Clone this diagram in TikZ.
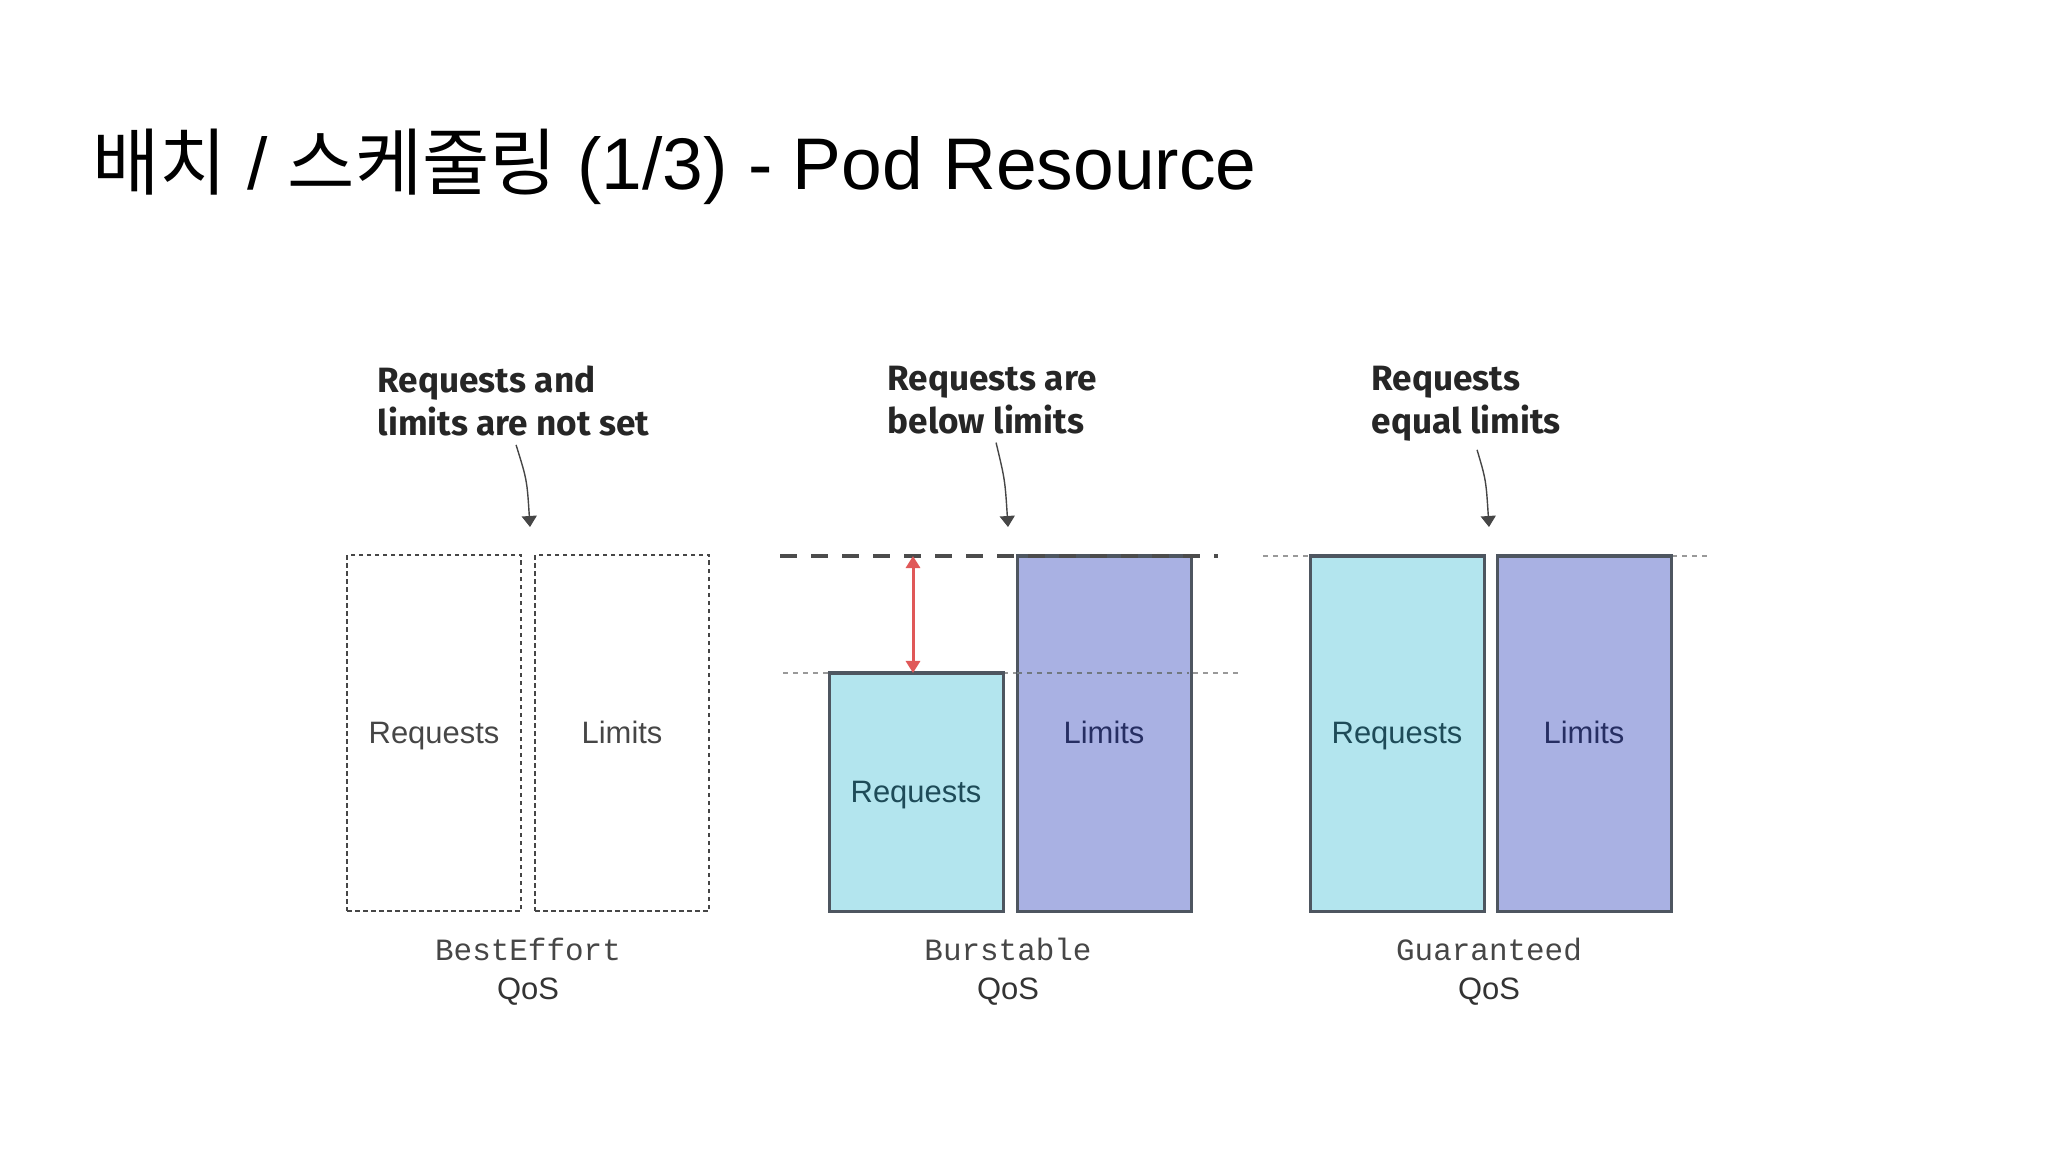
\documentclass[tikz,border=0pt]{standalone}
\usepackage{fontspec}
\setmainfont{Liberation Sans}
\setmonofont{Liberation Mono}
\newfontfamily\krfont{Noto Sans CJK KR}
\newfontfamily\notefont{Fira Sans}
\usepackage{xcolor}
\definecolor{qosreq}{RGB}{179,229,238}
\definecolor{qoslim}{RGB}{169,177,227}
\definecolor{qosedge}{RGB}{78,86,96}
\definecolor{qosred}{RGB}{224,88,88}
\definecolor{qosgray}{RGB}{70,70,70}
\definecolor{reqtext}{RGB}{30,75,88}
\definecolor{limtext}{RGB}{38,46,98}
\usetikzlibrary{arrows.meta, positioning}

\begin{document}
\begin{tikzpicture}[x=0.01cm, y=-0.01cm,
    boxfont/.style={font=\fontsize{8.8}{10}\selectfont, text height=1.5ex, text depth=0.4ex},
    emptybox/.style={boxfont, draw=qosgray, dash pattern=on 0.045cm off 0.035cm, line width=0.02cm,
      minimum width=1.74cm, minimum height=3.56cm, inner sep=0pt, outer sep=0pt, text=qosgray},
    reqbox/.style={boxfont, draw=qosedge, fill=qosreq, line width=0.03cm,
      minimum width=1.74cm, inner sep=0pt, outer sep=0pt, text=reqtext},
    limbox/.style={boxfont, draw=qosedge, fill=qoslim, line width=0.03cm,
      minimum width=1.74cm, inner sep=0pt, outer sep=0pt, text=limtext},
    note/.style={font=\notefont\bfseries\fontsize{10}{12.3}\selectfont, align=left,
      inner sep=0pt, text=black!85},
    notearrow/.style={-{Triangle[width=0.15cm, length=0.11cm]}, line width=0.014cm, qosgray},
    qosname/.style={font=\ttfamily\fontsize{8.8}{10}\selectfont, text=qosgray, inner sep=0pt},
    qoslabel/.style={font=\fontsize{8.8}{10}\selectfont, text=black!80, inner sep=0pt},
    guide/.style={line width=0.022cm, black!40, dash pattern=on 0.05cm off 0.05cm},
    topguide/.style={line width=0.04cm, black!70, dash pattern=on 0.17cm off 0.14cm},
    gaparrow/.style={{Triangle[width=0.14cm, length=0.12cm]}-{Triangle[width=0.14cm, length=0.12cm]},
      line width=0.03cm, qosred}]
  \useasboundingbox (0,0) rectangle (2048,1152);

  % title
  \node[anchor=base west, font=\fontsize{20.8}{25}\selectfont] (title) at (80,190)
       {{\krfont 배치} / {\krfont 스케줄링} (1/3) - Pod Resource};

  % BestEffort
  \node[emptybox, anchor=north west] (ereq) at (347,555) {Requests};
  \node[emptybox, anchor=north west] (elim) at (535,555) {Limits};
  \node[note, anchor=north west] (enote) at (377,365) {Requests and\\limits are not set};
  \coordinate (etip) at (530,527);
  \draw[notearrow] ([xshift=1.39cm,yshift=-0.08cm]enote.south west) .. controls (527,480) .. (etip);
  \node[qosname] (ename) at (528,949) {BestEffort};
  \node[qoslabel, below=0.16cm of ename] (eqos) {QoS};

  % Burstable
  \draw[guide] (783,673) -- (1240,673);
  \node[reqbox, anchor=north west, minimum height=2.38cm] (breq) at (829,673) {Requests};
  \node[limbox, anchor=north west, minimum height=3.55cm] (blim) at (1017,556) {Limits};
  \draw[guide, qosedge!80] (1017,673) -- (1189,673);
  \draw[topguide] (780,556) -- (1218,556);
  \coordinate (bgap) at (913,0);
  \draw[gaparrow] (blim.north -| bgap) -- (breq.north -| bgap);
  \node[note, anchor=north west] (bnote) at (887,365) {Requests are\\below limits};
  \coordinate (btip) at (1008,527);
  \draw[notearrow] ([xshift=1.09cm,yshift=-0.08cm]bnote.south west) .. controls (1005,480) .. (btip);
  \node[qosname] (bname) at (1008,949) {Burstable};
  \node[qoslabel, below=0.16cm of bname] (bqos) {QoS};

  % Guaranteed
  \draw[guide] (1263,556) -- (1310,556);
  \draw[guide] (1672,556) -- (1712,556);
  \node[reqbox, anchor=north west, minimum height=3.55cm] (greq) at (1310,556) {Requests};
  \node[limbox, anchor=north west, minimum height=3.55cm] (glim) at (1497,556) {Limits};
  \node[note, anchor=north west] (gnote) at (1371,365) {Requests\\equal limits};
  \coordinate (gtip) at (1489,527);
  \draw[notearrow] ([xshift=1.06cm,yshift=-0.08cm]gnote.south west) .. controls (1486,480) .. (gtip);
  \node[qosname] (gname) at (1489,949) {Guaranteed};
  \node[qoslabel, below=0.16cm of gname] (gqos) {QoS};
\end{tikzpicture}
\end{document}
